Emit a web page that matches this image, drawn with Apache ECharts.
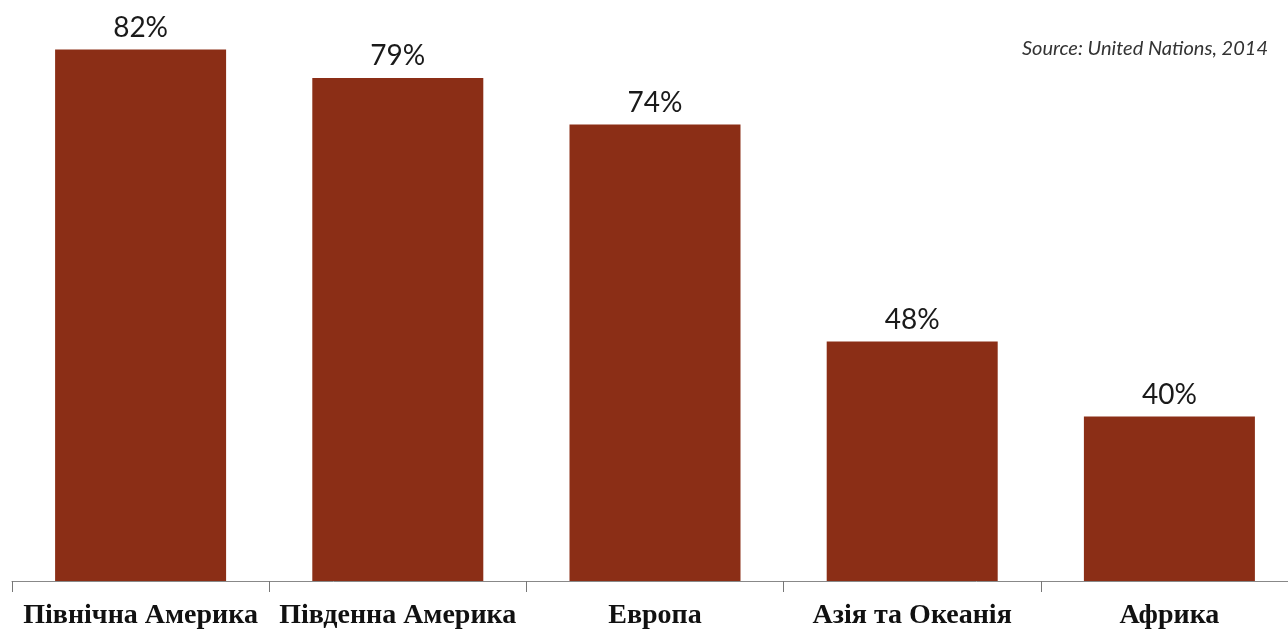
<!DOCTYPE html>
<html>
<head>
<meta charset="utf-8">
<script src="https://cdn.jsdelivr.net/npm/echarts@6/dist/echarts.min.js"></script>
<style>
html, body { margin: 0; padding: 0; background: #fff; overflow: hidden; }
/* the axis runs past the right edge of the window, so the canvas is a bit wider */
#chart { width: 1298px; height: 635px; }
</style>
</head>
<body>
<div id="chart"></div>
<script>
const regions = ['Північна Америка', 'Південна Америка', 'Европа', 'Азія та Океанія', 'Африка'];
const urbanShare = [82.3, 79.0, 73.6, 48.4, 39.7];
const sourceText = 'Source: United Nations, 2014';

const myChart = echarts.init(document.getElementById('chart'));

const option = {
    backgroundColor: '#fff',
    animation: false,
    graphic: [
        {
            type: 'text',
            right: 30,
            top: 39,
            style: {
                text: sourceText,
                font: 'italic 20px Lato',
                fill: '#333'
            }
        }
    ],
    grid: {
        top: 10,
        left: 12,
        right: 0,
        bottom: 54,
        containLabel: false
    },
    xAxis: {
        type: 'category',
        data: regions,
        axisLine: {
            lineStyle: { color: '#888', width: 1 }
        },
        axisTick: {
            show: true,
            length: 11,
            lineStyle: { color: '#777' }
        },
        axisLabel: {
            color: '#111',
            fontFamily: 'Liberation Serif',
            fontWeight: 'bold',
            fontSize: 28,
            margin: 21,
            interval: 0
        }
    },
    yAxis: {
        type: 'value',
        min: 20.6,
        max: 86.9,
        show: false,
        splitLine: { show: false }
    },
    series: [
        {
            type: 'bar',
            data: urbanShare,
            barWidth: 171,
            itemStyle: { color: '#8B2E16' },
            label: {
                show: true,
                position: 'top',
                distance: 8,
                color: '#1a1a1a',
                fontFamily: 'Lato',
                fontSize: 28,
                formatter: (p) => Math.round(p.value) + '%'
            }
        }
    ]
};

myChart.setOption(option);
</script>
</body>
</html>
